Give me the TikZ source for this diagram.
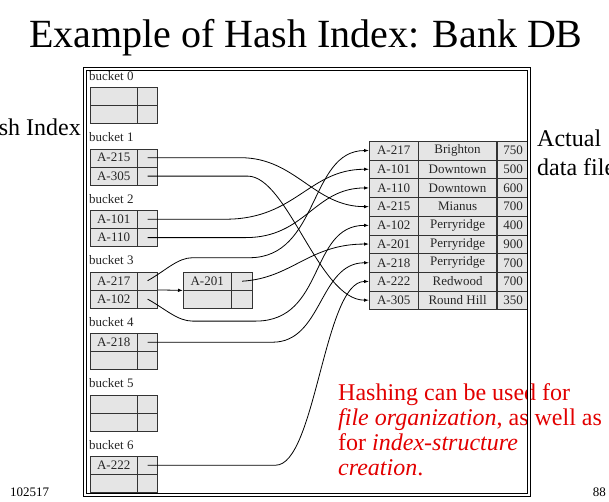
\documentclass[tikz,border=0pt]{standalone}
\usepackage{fontspec}
\setmainfont{Liberation Serif}
\usetikzlibrary{positioning,calc,arrows.meta}

\definecolor{slidered}{RGB}{226,0,0}

\begin{document}
\begin{tikzpicture}[x=1pt, y=-1pt,
  cell/.style={draw=black!80, fill=black!10, inner sep=0pt, minimum height=18pt,
               font=\fontsize{13}{13}\selectfont, text=black!85},
  keycell/.style={cell, minimum width=47pt},
  ptrcell/.style={cell, minimum width=20pt},
  reccell/.style={cell, minimum height=18.7pt},
  ptr/.style={-{Latex[length=5pt,width=3.5pt]}, line width=0.8pt},
  blabel/.style={font=\fontsize{13}{13}\selectfont, text=black!85, inner sep=0pt, anchor=base west}]
\useasboundingbox (0,0) rectangle (609,501);

\node[font=\fontsize{40}{42}\selectfont] (title) at (306,38) {Example of Hash Index: Bank DB};
\node[anchor=base east, font=\fontsize{24}{24}\selectfont, inner sep=0pt] (hidx) at (81,135) {Hash Index};
\node[anchor=base west, font=\fontsize{24}{24}\selectfont, inner sep=0pt] (act) at (537,146) {Actual};
\node[anchor=base west, font=\fontsize{24}{24}\selectfont, inner sep=0pt] (dfile) at (537,175) {data file};

% buckets of the hash index
\foreach \i/\ka/\kb in {0/{}/{}, 1/A-215/A-305, 2/A-101/A-110, 3/A-217/A-102,
                        4/A-218/{}, 5/{}/{}, 6/A-222/{}} {
  \node[blabel] (lb\i) at (89,{80+61.5*\i}) {bucket \i};
  \node[keycell, anchor=north west] (key\i a) at (90,{87+61.5*\i}) {\ka};
  \node[ptrcell, right=0pt of key\i a] (p\i a) {};
  \node[keycell, below=0pt of key\i a] (key\i b) {\kb};
  \node[ptrcell, right=0pt of key\i b] (p\i b) {};
}

% overflow bucket
\node[keycell, minimum width=48pt, anchor=north west] (ova) at (183,272) {A-201};
\node[ptrcell, minimum width=21pt, right=0pt of ova] (ovpa) {};
\node[keycell, minimum width=48pt, below=0pt of ova] (ovb) {};
\node[ptrcell, minimum width=21pt, right=0pt of ovb] (ovpb) {};

% data file
\foreach \r/\id/\br/\amt in {1/A-217/Brighton/750, 2/A-101/Downtown/500,
    3/A-110/Downtown/600, 4/A-215/Mianus/700, 5/A-102/Perryridge/400,
    6/A-201/Perryridge/900, 7/A-218/Perryridge/700, 8/A-222/Redwood/700,
    9/A-305/Round Hill/350} {
  \node[reccell, minimum width=49pt, anchor=north west] (r\r) at (369,{141+18.7*(\r-1)}) {\id};
  \node[reccell, minimum width=78pt, right=0pt of r\r] (br\r) {\br};
  \node[reccell, minimum width=32pt, right=0pt of br\r] (am\r) {\amt};
}

% pointers
\draw[ptr] (p1a.center) -- ++(93,0) .. controls +(55,0) and +(-55,0) .. (r4.west);
\draw[ptr] (p1b.center) -- ++(100,0) .. controls +(40,0) and +(-50,0) .. (r9.west);
\draw[ptr] (p2a.center) -- ++(78,0) .. controls +(70,0) and +(-60,0) .. (r2.west);
\draw[ptr] (p2b.center) -- ++(98,0) .. controls +(60,0) and +(-55,0) .. (r3.west);
\draw[ptr] (p3a.center) .. controls +(18,-10) and +(-15,0) .. ++(45,-23) -- ++(57,0)
  .. controls +(70,0) and +(-60,0) .. (r1.west);
\draw[ptr] (p3b.center) .. controls +(18,10) and +(-15,0) .. ++(45,22) -- ++(63,0)
  .. controls +(70,0) and +(-60,0) .. (r5.west);
\draw[ptr] (p3a.south east) -- (ova.south west);
\draw[ptr] (ovpa.center) .. controls +(50,-3) and +(-60,0) .. (r6.west);
\draw[ptr] (p4a.center) -- ++(125,0) .. controls +(50,0) and +(-50,0) .. (r7.west);
\draw[ptr] (p6a.center) -- ++(128,0) .. controls +(40,0) and +(-45,0) .. (r8.west);

\node[anchor=north west, align=left, text=slidered, inner sep=0pt,
      font=\fontsize{24}{25}\selectfont] (note) at (338,383)
  {Hashing can be used for\\\textit{file organization}, as well as\\for \textit{index-structure}\\\textit{creation}.};

% frame
\draw[line width=0.9pt, double=white, double distance=2.4pt] (85,69) rectangle (529,495);

\node[anchor=base west, font=\fontsize{13}{13}\selectfont, inner sep=0pt] (date) at (10,496) {102517};
\node[anchor=base east, font=\fontsize{13}{13}\selectfont, inner sep=0pt] (pg) at (606,496) {88};
\end{tikzpicture}
\end{document}
